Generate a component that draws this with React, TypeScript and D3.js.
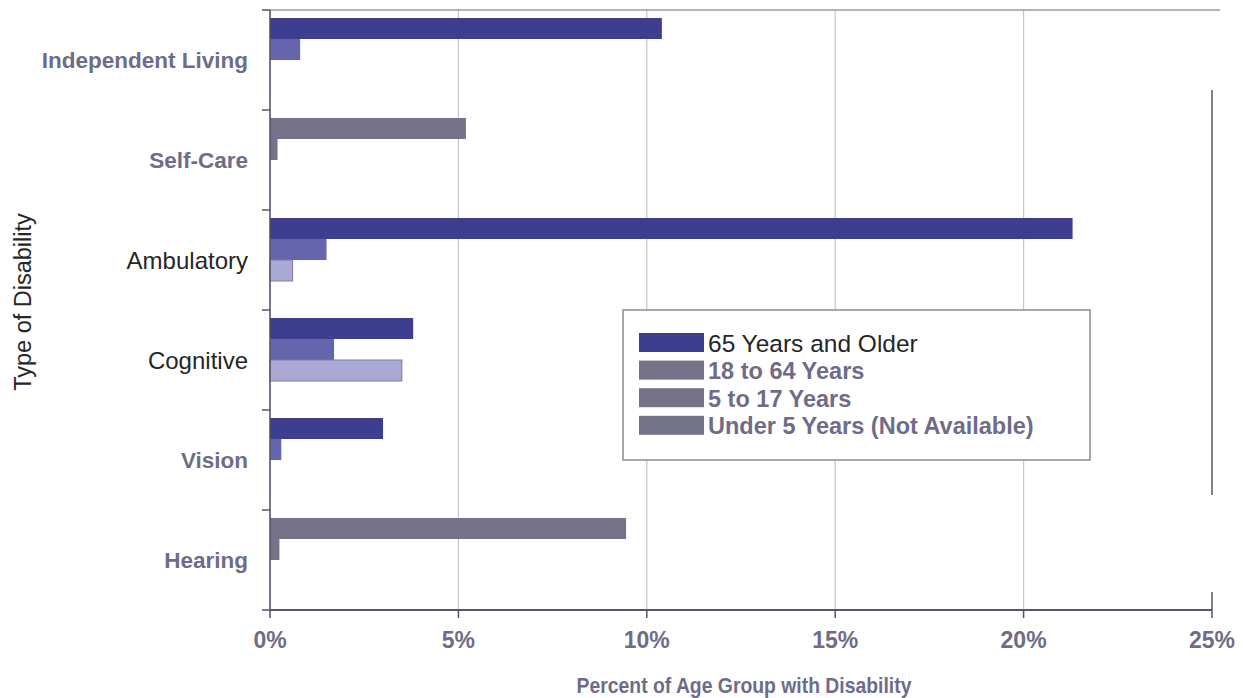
import React from "react";
import * as d3 from "d3";

const categories = ["Independent Living", "Self-Care", "Ambulatory", "Cognitive", "Vision", "Hearing"];
const seriesNames = ["65 Years and Older", "18 to 64 Years", "5 to 17 Years", "Under 5 Years (Not Available)"];
const values65plus = [10.4, 5.2, 21.3, 3.8, 3.0, 9.45];
const values18to64 = [0.8, 0.2, 1.5, 1.7, 0.3, 0.25];
const values5to17 = [0, 0, 0.6, 3.5, 0, 0];
const valuesUnder5 = [0, 0, 0, 0, 0, 0];
const xTicks = [0, 5, 10, 15, 20, 25];

const seriesValues = [values65plus, values18to64, values5to17, valuesUnder5];
const seriesColors = ["#3e3e90", "#6565ae", "#a9a9d3", "#8a8aa8"];
const fadedColor = "#75738a";
const fadedCats = new Set(["Self-Care", "Hearing"]);
const greyLabelCats = new Set(["Independent Living", "Self-Care", "Vision", "Hearing"]);
const greyText = "#6e6c88";
const darkText = "#262626";
const font = "Liberation Sans, Arial, sans-serif";

export default function App() {
  const W = 1245, H = 698;
  const left = 270, right = 1212, top = 10, bottom = 610;
  const x = d3.scaleLinear().domain([0, 25]).range([left, right]);
  const y0 = d3.scaleBand<string>().domain(categories).range([top, bottom]);
  const y1 = d3.scaleBand<string>().domain(seriesNames).range([8, 92]);

  return (
    <svg width={W} height={H} style={{ position: "absolute", left: 0, top: 0, background: "#fff" }}>
      <rect x={0} y={0} width={W} height={H} fill="#fff" />
      {xTicks.slice(1, -1).map((t) => (
        <line key={"g" + t} x1={x(t)} x2={x(t)} y1={top} y2={bottom} stroke="#c4c4cc" strokeWidth={1.2} />
      ))}
      <line x1={left} x2={right + 8} y1={top} y2={top} stroke="#9a9aa6" strokeWidth={1.5} />
      <line x1={right} x2={right} y1={90} y2={495} stroke="#55546a" strokeWidth={1.5} />
      {categories.map((c, ci) => (
        <g key={c} transform={`translate(0,${y0(c)})`}>
          {seriesNames.map((s, si) => {
            const v = seriesValues[si][ci];
            if (!v) return null;
            const fill = fadedCats.has(c) ? fadedColor : seriesColors[si];
            return (
              <rect key={s} x={x(0)} y={y1(s)!} width={x(v) - x(0)} height={y1.bandwidth()}
                fill={fill} stroke={si === 2 ? "#7a7aa0" : "none"} strokeWidth={1} />
            );
          })}
        </g>
      ))}
      <line x1={left} x2={left} y1={top} y2={bottom} stroke="#55546a" strokeWidth={1.6} />
      {[...categories.map((c) => y0(c)!), bottom].map((yy, i) => (
        <line key={"yt" + i} x1={left - 8} x2={left} y1={yy} y2={yy} stroke="#55546a" strokeWidth={1.5} />
      ))}
      {categories.map((c) => {
        const grey = greyLabelCats.has(c);
        return (
          <text key={"l" + c} x={248} y={y0(c)! + y0.bandwidth() / 2} dy="0.36em" textAnchor="end"
            fontFamily={font} fontSize={grey ? 22.5 : 24} fontWeight={grey ? 700 : 400}
            fill={grey ? greyText : darkText}>{c}</text>
        );
      })}
      <line x1={left} x2={right} y1={bottom} y2={bottom} stroke="#55546a" strokeWidth={2} />
      {xTicks.map((t) => (
        <g key={"xt" + t}>
          {t === 25 && <line x1={x(t)} x2={x(t)} y1={bottom - 18} y2={bottom} stroke="#55546a" strokeWidth={1.5} />}
          <line x1={x(t)} x2={x(t)} y1={bottom} y2={bottom + 8} stroke="#55546a" strokeWidth={1.5} />
          <text x={x(t)} y={648} textAnchor="middle" fontFamily={font} fontSize={23} fontWeight={700}
            fill={greyText}>{t}%</text>
        </g>
      ))}
      <text x={744} y={693} textAnchor="middle" fontFamily={font} fontSize={22} fontWeight={700} fill={greyText}
        transform="translate(744,0) scale(0.88,1) translate(-744,0)">Percent of Age Group with Disability</text>
      <text transform="translate(31,302) rotate(-90)" textAnchor="middle" fontFamily={font} fontSize={23.5}
        fill={darkText}>Type of Disability</text>
      <rect x={623} y={310} width={467} height={150} fill="#fff" stroke="#8a8a96" strokeWidth={1.5} />
      {seriesNames.map((s, i) => {
        const cy = 343 + i * 27.6;
        return (
          <g key={"lg" + s}>
            <rect x={639} y={cy - 10} width={65} height={19} fill={i === 0 ? seriesColors[0] : fadedColor} />
            <text x={708} y={cy} dy="0.36em" fontFamily={font} fontSize={i === 0 ? 24.5 : 23.5} fontWeight={i === 0 ? 400 : 700}
              fill={i === 0 ? darkText : greyText}>{s}</text>
          </g>
        );
      })}
    </svg>
  );
}
